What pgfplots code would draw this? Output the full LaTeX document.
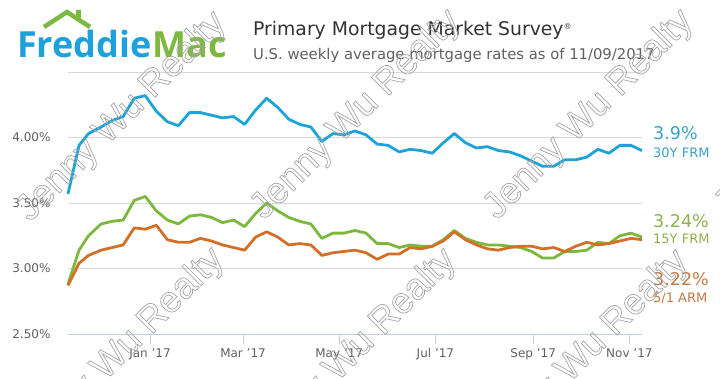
\documentclass[border=0pt]{standalone}
\usepackage{pgfplots}
\pgfplotsset{compat=1.18}
\usepackage{pgfplotstable}
\usepackage{fontspec}
\setmainfont{DejaVu Sans}
\newfontfamily\logofont{Open Sans}
\newfontfamily\wmfont{Liberation Sans}
\definecolor{fmblue}{RGB}{29,163,216}
\definecolor{fmgreen}{RGB}{125,184,62}
\definecolor{fmorange}{RGB}{210,112,42}
\definecolor{lblblue}{RGB}{58,160,200}
\definecolor{lblgreen}{RGB}{141,176,80}
\definecolor{lblorange}{RGB}{194,122,69}
\definecolor{logoblue}{RGB}{30,160,220}
\definecolor{logogreen}{RGB}{125,185,65}
\definecolor{labelgray}{RGB}{96,96,96}
\definecolor{titlegray}{RGB}{51,51,51}
\definecolor{gridgray}{RGB}{216,216,216}
\definecolor{axisline}{RGB}{192,208,224}
\definecolor{wmgray}{RGB}{165,165,165}

\pgfplotstableread{
d frm30 frm15 arm
-52 3.57 2.88 2.87
-45 3.94 3.14 3.04
-39 4.03 3.25 3.10
-31 4.08 3.34 3.14
-24 4.13 3.36 3.16
-17 4.16 3.37 3.18
-10 4.30 3.52 3.31
-3 4.32 3.55 3.30
4 4.20 3.44 3.33
11 4.12 3.37 3.22
18 4.09 3.34 3.20
25 4.19 3.40 3.20
32 4.19 3.41 3.23
39 4.17 3.39 3.21
46 4.15 3.35 3.18
53 4.16 3.37 3.16
60 4.10 3.32 3.14
67 4.21 3.42 3.24
74 4.30 3.50 3.28
81 4.23 3.44 3.24
88 4.14 3.39 3.18
95 4.10 3.36 3.19
102 4.08 3.34 3.18
109 3.97 3.23 3.10
116 4.03 3.27 3.12
123 4.02 3.27 3.13
130 4.05 3.29 3.14
137 4.02 3.27 3.12
144 3.95 3.19 3.07
151 3.94 3.19 3.11
158 3.89 3.16 3.11
165 3.91 3.18 3.16
172 3.90 3.17 3.15
179 3.88 3.17 3.17
186 3.96 3.22 3.21
193 4.03 3.29 3.28
200 3.96 3.23 3.22
207 3.92 3.20 3.18
214 3.93 3.18 3.15
221 3.90 3.18 3.14
228 3.89 3.17 3.16
235 3.86 3.16 3.17
242 3.82 3.13 3.17
249 3.78 3.08 3.15
256 3.78 3.08 3.16
263 3.83 3.13 3.13
270 3.83 3.13 3.17
277 3.85 3.14 3.20
284 3.91 3.20 3.18
291 3.88 3.19 3.19
298 3.94 3.25 3.21
305 3.94 3.27 3.23
312 3.90 3.24 3.22
}\ratedata

\newcommand\outlinetext[1]{\special{pdf:literal direct 1 Tr 0.7 w}#1\special{pdf:literal direct 0 Tr}}
\newcommand\wm[2]{%
  \node[rotate=45,text=wmgray,font=\wmfont\fontsize{37}{37}\selectfont,inner sep=0] at (#1,#2) {\outlinetext{Jenny Wu Realty}};%
}

\begin{document}
\begin{tikzpicture}[x=1pt,y=1pt]
\path[use as bounding box] (0,0) rectangle (720,378);
\clip (0,0) rectangle (720,378);

% logo
\draw[logogreen,line width=4.5pt,line join=miter] (44,351) -- (67,366) -- (90,351);
\fill[logogreen] (76,360) rectangle (81,368);
\node[anchor=base west,inner sep=0,font=\logofont\bfseries\fontsize{36}{36}\selectfont] at (17,320) {\textcolor{logoblue}{Freddie}\kern1pt\textcolor{logogreen}{Mac}};

% titles
\node[anchor=base west,inner sep=0,text=titlegray,font=\fontsize{18.8}{20}\selectfont] at (253,342) {Primary Mortgage Market Survey\textsuperscript{\footnotesize\textregistered}};
\node[anchor=base west,inner sep=0,text=labelgray,font=\fontsize{14.8}{16}\selectfont] at (253,318) {U.S. weekly average mortgage rates as of 11/09/2017};

\begin{axis}[
  at={(68pt,44pt)}, anchor=south west, scale only axis,
  width=574pt, height=262pt,
  xmin=-52, xmax=312, ymin=2.5, ymax=4.5,
  axis x line*=bottom, axis y line*=left,
  x axis line style={color=axisline,line width=0.8pt},
  y axis line style={draw=none},
  xtick={0,59,120,181,243,304},
  xticklabels={Jan '17,Mar '17,May '17,Jul '17,Sep '17,Nov '17},
  ytick={2.5,3,3.5,4,4.5},
  yticklabels={2.50\%,3.00\%,3.50\%,4.00\%,{}},
  tick align=outside,
  major tick length=10pt,
  xtick style={color=axisline,line width=0.8pt},
  ytick style={draw=none},
  ymajorgrids,
  major grid style={color=gridgray,line width=0.7pt},
  ticklabel style={font=\fontsize{12}{14}\selectfont,text=labelgray},
  yticklabel style={xshift=-4pt},
  xticklabel style={yshift=-1pt},
  clip=false,
]
\addplot[fmblue,line width=2.8pt,line join=round] table[x=d,y=frm30] {\ratedata};
\addplot[fmgreen,line width=2.8pt,line join=round] table[x=d,y=frm15] {\ratedata};
\addplot[fmorange,line width=2.8pt,line join=round] table[x=d,y=arm] {\ratedata};
\end{axis}

% right labels
\node[anchor=base west,inner sep=0,text=lblblue,font=\fontsize{17.5}{18}\selectfont] at (653,238) {3.9\%};
\node[anchor=base west,inner sep=0,text=lblblue,font=\fontsize{13}{14}\selectfont] at (653,220) {30Y FRM};
\node[anchor=base west,inner sep=0,text=lblgreen,font=\fontsize{17.5}{18}\selectfont] at (653,151) {3.24\%};
\node[anchor=base west,inner sep=0,text=lblgreen,font=\fontsize{13}{14}\selectfont] at (653,135) {15Y FRM};
\node[anchor=base west,inner sep=0,text=lblorange,font=\fontsize{17.5}{18}\selectfont] at (653,93) {3.22\%};
\node[anchor=base west,inner sep=0,text=lblorange,font=\fontsize{13}{14}\selectfont] at (653,76) {5/1 ARM};

% watermarks
\wm{122}{261}
\wm{356}{263}
\wm{589}{263}
\wm{820}{266}
\wm{120}{25}
\wm{352}{24}
\wm{584}{23}
\wm{815}{25}
\end{tikzpicture}
\end{document}
